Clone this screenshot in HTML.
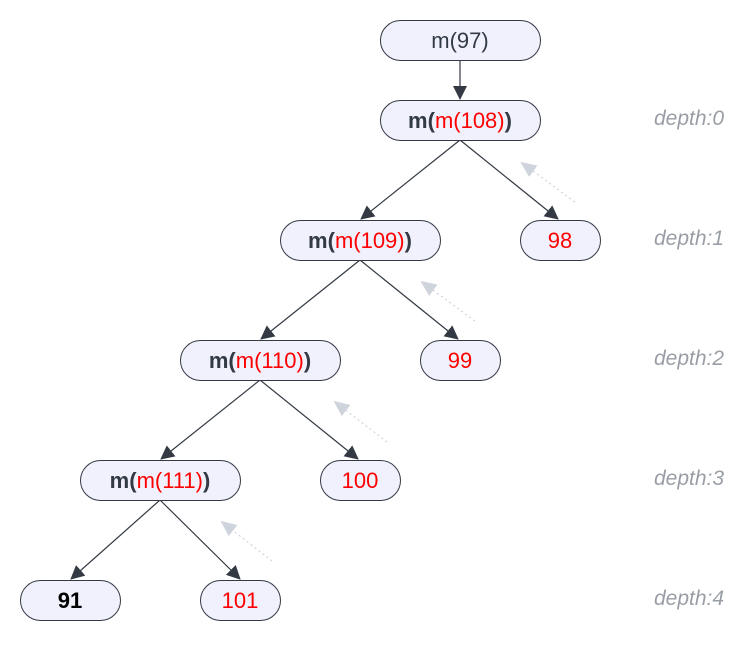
<!DOCTYPE html>
<html><head><style>
body{margin:0;background:#fff;}
svg text{font-family:"Liberation Sans",sans-serif;}
</style></head><body>
<svg width="749" height="651" viewBox="0 0 749 651" xmlns="http://www.w3.org/2000/svg">
<defs>
<marker id="a" markerWidth="14" markerHeight="14" refX="13" refY="7" orient="auto" markerUnits="userSpaceOnUse" viewBox="0 0 14 14"><path d="M0,0 L14,7 L0,14 z" fill="#333a44"/></marker>
<marker id="g" markerWidth="16" markerHeight="14" refX="14" refY="7" orient="auto" markerUnits="userSpaceOnUse" viewBox="0 0 16 14"><path d="M0,0 L16,7 L0,14 z" fill="#cfd4dc"/></marker>
</defs>
<g stroke="#333a44" stroke-width="1.2" fill="none">
<line x1="460" y1="60" x2="460" y2="99" marker-end="url(#a)"/>
<line x1="460" y1="140" x2="361" y2="219" marker-end="url(#a)"/>
<line x1="460" y1="140" x2="558" y2="219" marker-end="url(#a)"/>
<line x1="360" y1="260" x2="261" y2="339" marker-end="url(#a)"/>
<line x1="360" y1="260" x2="458" y2="339" marker-end="url(#a)"/>
<line x1="260" y1="380" x2="161" y2="459" marker-end="url(#a)"/>
<line x1="260" y1="380" x2="358" y2="459" marker-end="url(#a)"/>
<line x1="160" y1="500" x2="71" y2="579" marker-end="url(#a)"/>
<line x1="160" y1="500" x2="240" y2="579" marker-end="url(#a)"/>
</g>
<g stroke="#cfd4dc" stroke-width="1.2" stroke-dasharray="2,3" fill="none">
<line x1="575" y1="202" x2="522" y2="163" marker-end="url(#g)"/>
<line x1="475" y1="321" x2="422" y2="282" marker-end="url(#g)"/>
<line x1="387" y1="442" x2="335" y2="402" marker-end="url(#g)"/>
<line x1="272" y1="561" x2="222" y2="522" marker-end="url(#g)"/>
</g>
<g fill="#f0f1fc" stroke="#333a44" stroke-width="1">
<rect x="380.5" y="20.5" width="160" height="40" rx="20"/>
<rect x="380.5" y="100.5" width="160" height="40" rx="20"/>
<rect x="280.5" y="220.5" width="160" height="40" rx="20"/>
<rect x="520.5" y="220.5" width="80" height="40" rx="20"/>
<rect x="180.5" y="340.5" width="160" height="40" rx="20"/>
<rect x="420.5" y="340.5" width="80" height="40" rx="20"/>
<rect x="80.5" y="460.5" width="160" height="40" rx="20"/>
<rect x="320.5" y="460.5" width="80" height="40" rx="20"/>
<rect x="20.5" y="580.5" width="100" height="40" rx="20"/>
<rect x="200.5" y="580.5" width="80" height="40" rx="20"/>
</g>
<g font-size="22" text-anchor="middle" fill="#333a44">
<text x="460" y="48">m(97)</text>
<text x="460" y="128"><tspan font-weight="bold">m(</tspan><tspan fill="#f00">m(108)</tspan><tspan font-weight="bold">)</tspan></text>
<text x="360" y="248"><tspan font-weight="bold">m(</tspan><tspan fill="#f00">m(109)</tspan><tspan font-weight="bold">)</tspan></text>
<text x="260" y="368"><tspan font-weight="bold">m(</tspan><tspan fill="#f00">m(110)</tspan><tspan font-weight="bold">)</tspan></text>
<text x="160" y="488"><tspan font-weight="bold">m(</tspan><tspan fill="#f00">m(111)</tspan><tspan font-weight="bold">)</tspan></text>
<text x="560" y="248" fill="#f00">98</text>
<text x="460" y="368" fill="#f00">99</text>
<text x="360" y="488" fill="#f00">100</text>
<text x="240" y="608" fill="#f00">101</text>
<text x="70" y="608" fill="#000" font-weight="bold">91</text>
</g>
<g font-size="21" font-style="italic" fill="#999ea6">
<text x="654" y="125">depth:0</text>
<text x="654" y="245">depth:1</text>
<text x="654" y="365">depth:2</text>
<text x="654" y="485">depth:3</text>
<text x="654" y="605">depth:4</text>
</g>
</svg>
</body></html>
